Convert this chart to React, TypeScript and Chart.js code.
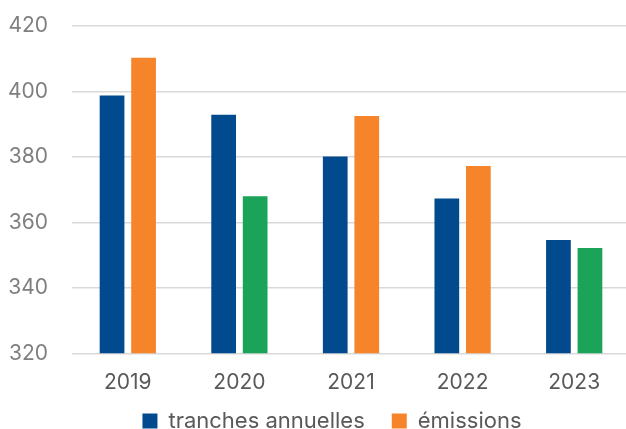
import React, { useEffect, useRef } from "react";
import { Chart, registerables } from "chart.js";

Chart.register(...registerables);

const categories = ["2019", "2020", "2021", "2022", "2023"];
const tranchesAnnuelles = [398.8, 392.9, 380.1, 367.3, 354.6];
const emissions = [410.3, 368.0, 392.5, 377.2, 352.2];
const seriesNames = ["tranches annuelles", "émissions"];
const yMin = 320;
const yMax = 420;
const yStep = 20;

const BLUE = "#004A8D";
const ORANGE = "#F5842A";
const GREEN = "#1BA35A";
const emissionColors = [ORANGE, GREEN, ORANGE, ORANGE, GREEN];

const FONT = "Inter, 'Liberation Sans', sans-serif";

// Places the legend just below the category labels after layout.
const legendPlacer = {
  id: "legendPlacer",
  afterLayout(chart: any) {
    const lg = chart.legend;
    if (!lg) return;
    const w = lg.right - lg.left;
    lg.top = 410 - 27;
    lg.bottom = chart.height;
    lg.height = lg.bottom - lg.top;
    lg.left = 17;
    lg.right = lg.left + w;
  },
};

export default function App() {
  const canvasRef = useRef<HTMLCanvasElement | null>(null);

  useEffect(() => {
    if (!canvasRef.current) return;
    const chart = new Chart(canvasRef.current, {
      type: "bar",
      data: {
        labels: categories,
        datasets: [
          {
            label: seriesNames[0],
            data: tranchesAnnuelles,
            backgroundColor: BLUE,
            borderWidth: 0,
            barPercentage: 0.784,
            categoryPercentage: 0.565,
          },
          {
            label: seriesNames[1],
            data: emissions,
            backgroundColor: emissionColors,
            borderWidth: 0,
            barPercentage: 0.784,
            categoryPercentage: 0.565,
          },
        ],
      },
      plugins: [legendPlacer],
      options: {
        responsive: false,
        animation: false,
        layout: { padding: { top: 26, right: 10, left: 0, bottom: 0 } },
        scales: {
          x: {
            grid: { display: false, drawTicks: false, tickLength: 0 },
            border: { display: false },
            ticks: { color: "#595959", font: { family: FONT, size: 21 }, padding: 17 },
            afterFit: (a: any) => {
              a.height = 42.2;
            },
          },
          y: {
            min: yMin,
            max: yMax,
            grid: { color: "#D9D9D9", lineWidth: 1.4, drawTicks: false },
            border: { display: false },
            ticks: { stepSize: yStep, color: "#7F7F7F", font: { family: FONT, size: 21 }, padding: 24 },
            afterFit: (a: any) => {
              a.width = 72;
              a.paddingTop = 0;
              a.paddingBottom = 0;
            },
          },
        },
        plugins: {
          legend: {
            position: "bottom",
            maxHeight: 33.5,
            labels: {
              boxWidth: 15,
              boxHeight: 15,
              padding: 27,
              color: "#595959",
              font: { family: FONT, size: 22 },
            },
          },
          tooltip: { enabled: false },
        },
      },
    });
    return () => chart.destroy();
  }, []);

  return (
    <div
      style={{
        position: "fixed",
        left: 0,
        top: 0,
        width: 626,
        height: 429,
        overflow: "hidden",
        background: "#fff",
      }}
    >
      <canvas ref={canvasRef} width={640} height={429} style={{ display: "block" }} />
    </div>
  );
}
